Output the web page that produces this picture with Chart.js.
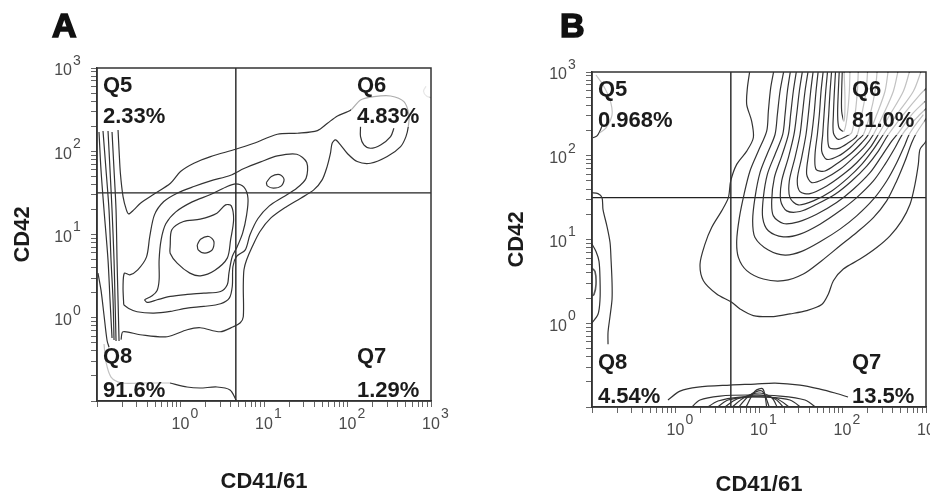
<!DOCTYPE html>
<html>
<head>
<meta charset="utf-8">
<script src="https://cdn.jsdelivr.net/npm/chart.js@4.4.1/dist/chart.umd.min.js"></script>
<style>
  html, body { margin: 0; padding: 0; background: #fff; }
  #wrap { position: relative; width: 930px; height: 498px; overflow: hidden; }
  .panel { position: absolute; top: 0; width: 465px; height: 498px; }
  #panelA { left: 0; }
  #panelB { left: 465px; }
</style>
</head>
<body>
<div id="wrap">
  <div class="panel" id="panelA"><canvas id="chartA"></canvas></div>
  <div class="panel" id="panelB"><canvas id="chartB"></canvas></div>
</div>
<script>
/* ============================================================
   Data — axes, gates, quadrant stats
   Contour vertices are [log10(CD41/61), log10(CD42)] pairs
   ============================================================ */
const AXIS_MIN = 0.1;
const AXIS_MAX = 1000;
const DECADES = [0, 1, 2, 3];
const GATE_X = 4.6;
const GATE_Y = 31.6;

const QUADS = ['Q5', 'Q6', 'Q7', 'Q8'];
const PCT_A = ['2.33%', '4.83%', '1.29%', '91.6%'];
const PCT_B = ['0.968%', '81.0%', '13.5%', '4.54%'];

/* ---- Panel A contours ---- */
const A_L1 = [[-0.748,2.256],[-0.736,2.016],[-0.72,1.736],[-0.688,1.456],[-0.648,1.296],[-0.62,1.248],[-0.56,1.296],[-0.48,1.376],[-0.32,1.484],[-0.12,1.616],[0.0,1.756],[0.16,1.856],[0.36,1.936],[0.66,2.024],[0.88,2.096],[1.16,2.204],[1.40,2.216],[1.64,2.248],[1.76,2.336],[1.88,2.424],[2.04,2.496],[2.156,2.616],[2.316,2.656],[2.516,2.664],[2.676,2.596],[2.736,2.436],[2.728,2.296],[2.70,2.176],[2.636,2.056],[2.476,1.936],[2.276,1.856],[2.116,1.876],[1.996,1.976],[1.916,2.076],[1.856,2.136],[1.816,2.096],[1.796,1.976],[1.756,1.816],[1.696,1.656],[1.596,1.536],[1.44,1.436],[1.26,1.328],[1.08,1.196],[0.952,1.036],[0.86,0.856],[0.792,0.696],[0.76,0.576],[0.752,0.376],[0.752,0.012],[0.716,-0.06],[0.632,-0.108],[0.476,-0.168],[0.236,-0.12],[0.08,-0.144],[-0.16,-0.228],[-0.484,-0.204],[-0.688,-0.168],[-0.712,-0.264]];
const A_L2 = [[-0.68,0.156],[-0.688,0.376],[-0.672,0.536],[-0.608,0.516],[-0.512,0.576],[-0.408,0.728],[-0.368,0.976],[-0.312,1.236],[-0.2,1.396],[-0.04,1.496],[0.16,1.576],[0.36,1.644],[0.6,1.712],[0.76,1.792],[0.96,1.872],[1.16,1.944],[1.392,1.964],[1.512,1.864],[1.504,1.676],[1.392,1.556],[1.224,1.448],[1.064,1.344],[0.928,1.192],[0.832,0.996],[0.776,0.816],[0.672,0.736],[0.628,0.616],[0.62,0.376],[0.584,0.236],[0.48,0.168],[0.28,0.136],[0.08,0.116],[-0.12,0.076],[-0.32,0.056],[-0.52,0.072],[-0.62,0.112],[-0.68,0.156]];
const A_L3 = [[-0.432,0.216],[-0.34,0.264],[-0.28,0.328],[-0.256,0.456],[-0.256,0.696],[-0.232,0.936],[-0.176,1.128],[-0.056,1.272],[0.14,1.392],[0.36,1.48],[0.54,1.568],[0.66,1.608],[0.76,1.568],[0.808,1.436],[0.792,1.236],[0.744,1.016],[0.68,0.856],[0.62,0.736],[0.58,0.536],[0.56,0.396],[0.48,0.316],[0.28,0.296],[0.08,0.28],[-0.12,0.256],[-0.28,0.216],[-0.40,0.184],[-0.432,0.216]];
const A_L4 = [[-0.124,0.856],[-0.104,1.056],[0.036,1.156],[0.236,1.184],[0.436,1.256],[0.54,1.356],[0.608,1.344],[0.636,1.176],[0.60,0.936],[0.56,0.716],[0.408,0.568],[0.24,0.504],[0.112,0.536],[-0.04,0.656],[-0.124,0.776],[-0.124,0.856]];
const A_L5 = [[0.2,0.876],[0.24,0.944],[0.34,0.976],[0.40,0.916],[0.38,0.816],[0.292,0.776],[0.212,0.816],[0.2,0.876]];
const A_MID = [[1.028,1.624],[1.088,1.696],[1.188,1.72],[1.24,1.664],[1.208,1.584],[1.112,1.556],[1.04,1.584],[1.028,1.624]];
const A_Q6 = [[2.156,2.296],[2.156,2.176],[2.196,2.076],[2.276,2.036],[2.396,2.076],[2.516,2.176],[2.556,2.276]];
const A_BAND0 = [[-0.988,0.535],[-0.952,0.331],[-0.916,0.03],[-0.880,-0.27],[-0.856,-0.354]];
const A_BAND1 = [[-0.976,2.231],[-0.952,1.775],[-0.916,1.294],[-0.868,0.694],[-0.844,0.213],[-0.820,-0.243]];
const A_BAND2 = [[-0.928,2.243],[-0.892,1.775],[-0.856,1.294],[-0.832,0.694],[-0.808,0.213],[-0.796,-0.267]];
const A_BAND3 = [[-0.868,2.243],[-0.844,1.775],[-0.820,1.294],[-0.796,0.694],[-0.784,0.213],[-0.772,-0.279]];
const A_BAND4 = [[-0.820,2.231],[-0.796,1.775],[-0.772,1.294],[-0.760,0.694],[-0.748,0.213],[-0.736,-0.279]];
const A_FLOOR = [[-0.126,-0.784],[0.078,-0.832],[0.234,-0.844],[0.437,-0.832],[0.593,-0.868],[0.665,-0.988]];
const A_FLOOR_FAINT = [[-0.916,-0.315],[-0.892,-0.532],[-0.832,-0.712],[-0.70,-0.784],[-0.485,-0.784],[-0.126,-0.784]];
const A_EDGE_FAINT = [[2.94,2.78],[2.91,2.72],[2.95,2.66],[3.02,2.64]];

/* ---- Panel B contours ---- */
const B_L1 = [[0.892,3.028],[0.861,2.810],[0.853,2.611],[0.912,2.413],[0.932,2.215],[0.853,2.056],[0.733,1.897],[0.661,1.699],[0.633,1.500],[0.553,1.342],[0.433,1.143],[0.353,0.945],[0.294,0.707],[0.334,0.508],[0.493,0.350],[0.673,0.251],[0.773,0.171],[0.932,0.092],[1.172,0.080],[1.371,0.112],[1.571,0.151],[1.751,0.223],[1.831,0.350],[1.891,0.508],[2.010,0.647],[2.210,0.766],[2.410,0.905],[2.569,1.044],[2.709,1.223],[2.809,1.421],[2.868,1.659],[2.908,1.897],[2.928,2.076],[2.988,2.155],[3.048,2.254]];
const B_L2 = [[1.180,3.028],[1.140,2.810],[1.112,2.532],[1.092,2.294],[0.992,2.056],[0.892,1.818],[0.821,1.540],[0.765,1.262],[0.733,0.985],[0.753,0.786],[0.853,0.628],[1.052,0.528],[1.292,0.508],[1.531,0.588],[1.751,0.747],[1.970,0.925],[2.170,1.084],[2.370,1.262],[2.529,1.461],[2.649,1.699],[2.749,1.937],[2.829,2.155],[2.888,2.274],[3.008,2.453]];
const B_L3 = [[1.300,3.028],[1.252,2.770],[1.220,2.492],[1.192,2.254],[1.104,2.036],[1.012,1.798],[0.952,1.500],[0.924,1.223],[0.952,1.024],[1.112,0.874],[1.312,0.814],[1.511,0.858],[1.751,0.985],[1.970,1.124],[2.170,1.282],[2.370,1.481],[2.529,1.699],[2.649,1.917],[2.749,2.135],[2.809,2.274],[2.968,2.492]];
const B_L4 = [[1.379,3.028],[1.340,2.770],[1.312,2.492],[1.284,2.254],[1.192,2.016],[1.100,1.778],[1.052,1.500],[1.044,1.262],[1.112,1.104],[1.292,1.032],[1.491,1.064],[1.731,1.183],[1.970,1.342],[2.170,1.500],[2.370,1.699],[2.509,1.897],[2.629,2.096],[2.729,2.274],[2.888,2.453],[3.008,2.572]];
const B_L5 = [[1.451,3.028],[1.411,2.770],[1.379,2.492],[1.352,2.254],[1.272,1.996],[1.184,1.739],[1.152,1.461],[1.172,1.282],[1.292,1.191],[1.471,1.211],[1.691,1.302],[1.930,1.441],[2.130,1.600],[2.330,1.798],[2.469,1.996],[2.589,2.175],[2.669,2.274],[2.829,2.492],[2.988,2.651]];
const B_L6 = [[1.523,3.028],[1.483,2.770],[1.451,2.492],[1.419,2.254],[1.352,1.977],[1.272,1.699],[1.260,1.461],[1.332,1.342],[1.491,1.334],[1.691,1.421],[1.911,1.540],[2.110,1.699],[2.290,1.877],[2.429,2.056],[2.549,2.254],[2.729,2.492],[2.928,2.731],[3.008,2.810]];
const B_L7 = [[1.591,3.028],[1.551,2.770],[1.519,2.492],[1.491,2.254],[1.431,1.977],[1.363,1.699],[1.371,1.500],[1.471,1.413],[1.651,1.461],[1.871,1.580],[2.070,1.739],[2.230,1.897],[2.370,2.076],[2.489,2.254],[2.649,2.492],[2.849,2.770],[2.948,3.028]];
const B_L8 = [[1.651,3.028],[1.619,2.770],[1.591,2.492],[1.563,2.254],[1.511,1.977],[1.459,1.719],[1.491,1.572],[1.611,1.548],[1.811,1.639],[2.010,1.778],[2.170,1.917],[2.330,2.096],[2.429,2.254],[2.569,2.492],[2.729,2.770],[2.809,3.028]];
const B_L9 = [[1.711,3.028],[1.683,2.770],[1.659,2.492],[1.631,2.254],[1.591,1.996],[1.571,1.778],[1.631,1.679],[1.771,1.719],[1.970,1.838],[2.130,1.977],[2.270,2.116],[2.370,2.254],[2.489,2.492],[2.609,2.770],[2.669,3.028]];
const B_L10 = [[1.771,3.028],[1.743,2.770],[1.723,2.492],[1.699,2.254],[1.671,2.016],[1.683,1.838],[1.791,1.818],[1.950,1.917],[2.110,2.036],[2.230,2.155],[2.310,2.254],[2.410,2.492],[2.509,2.770],[2.549,3.028]];
const B_L11 = [[1.823,3.028],[1.799,2.770],[1.779,2.492],[1.763,2.254],[1.751,2.056],[1.811,1.957],[1.950,1.996],[2.090,2.096],[2.190,2.195],[2.250,2.254],[2.330,2.492],[2.390,2.770],[2.417,3.028]];
const B_L12 = [[1.871,3.028],[1.851,2.770],[1.835,2.492],[1.823,2.254],[1.843,2.096],[1.950,2.088],[2.070,2.155],[2.170,2.235],[2.230,2.492],[2.282,2.770],[2.302,3.028]];
const B_L13 = [[1.918,3.028],[1.903,2.770],[1.891,2.492],[1.891,2.274],[1.950,2.195],[2.050,2.235],[2.110,2.274],[2.150,2.492],[2.178,2.770],[2.190,3.028]];
const B_L14 = [[1.962,3.028],[1.950,2.770],[1.942,2.492],[1.958,2.334],[2.018,2.294],[2.058,2.492],[2.082,2.770],[2.090,3.028]];
const B_L15 = [[1.998,3.028],[1.990,2.770],[1.990,2.532],[2.018,2.413],[2.030,2.651],[2.018,3.028]];
const B_AXIS1 = [[-1.012,1.560],[-0.928,1.548],[-0.880,1.500],[-0.868,1.357],[-0.820,1.155],[-0.784,0.964],[-0.772,0.762],[-0.760,0.488],[-0.760,0.286],[-0.784,0.083],[-0.808,-0.107],[-0.808,-0.250]];
const B_AXIS2 = [[-1.012,0.964],[-0.952,0.857],[-0.916,0.738],[-0.904,0.524],[-0.904,0.286],[-0.928,0.107],[-1.012,-0.012]];
const B_AXIS3 = [[-1.012,0.667],[-0.964,0.619],[-0.952,0.464],[-0.976,0.345],[-1.012,0.321]];
const B_Q5 = [[-0.988,2.214],[-0.940,2.238],[-0.904,2.298],[-0.880,2.357]];
const B_Q5_FAINT = [[-0.952,2.964],[-0.868,2.845],[-0.784,2.667],[-0.760,2.488],[-0.832,2.333],[-0.904,2.274]];
const B_FLOOR0 = [[-0.090,-0.917],[0.054,-0.810],[0.269,-0.762],[0.653,-0.738],[0.952,-0.726],[1.192,-0.714],[1.491,-0.738],[1.731,-0.786],[1.910,-0.833],[2.066,-0.881]];
const B_FLOOR1 = [[0.174,-1.024],[0.293,-0.917],[0.533,-0.869],[0.892,-0.857],[1.251,-0.869],[1.551,-0.917],[1.707,-1.024]];
const B_FLOOR2 = [[0.353,-1.024],[0.509,-0.929],[0.772,-0.881],[1.072,-0.881],[1.371,-0.917],[1.527,-1.024]];
const B_FLOOR3 = [[0.473,-1.024],[0.629,-0.917],[0.892,-0.881],[1.192,-0.893],[1.395,-1.024]];
const B_FLOOR4 = [[0.557,-1.024],[0.737,-0.905],[0.976,-0.857],[1.192,-0.905],[1.311,-1.024]];
const B_FLOOR5 = [[0.653,-1.024],[0.832,-0.881],[1.012,-0.833],[1.156,-0.893],[1.228,-1.024]];
const B_FLOOR6 = [[0.737,-1.024],[0.892,-0.857],[1.036,-0.810],[1.132,-1.024]];
const B_FLOOR7 = [[0.832,-1.024],[0.952,-0.810],[1.048,-0.786],[1.096,-1.024]];

/* ============================================================
   Styling
   ============================================================ */
const INK = '#333333';
const FAINT = '#c2c2c2';
const FONT = '"Liberation Sans", Arial, sans-serif';

function level(pts, color, width) {
  return {
    type: 'line',
    data: pts.map(([a, b]) => ({ x: Math.pow(10, a), y: Math.pow(10, b) })),
    borderColor: color || INK,
    borderWidth: width || 1.2,
    pointRadius: 0,
    tension: 0.3,
    fill: false
  };
}

function gates() {
  return [
    { type: 'line', data: [{ x: GATE_X, y: AXIS_MIN }, { x: GATE_X, y: AXIS_MAX }], borderColor: '#222', borderWidth: 1.4, pointRadius: 0 },
    { type: 'line', data: [{ x: AXIS_MIN, y: GATE_Y }, { x: AXIS_MAX, y: GATE_Y }], borderColor: '#222', borderWidth: 1.4, pointRadius: 0 }
  ];
}

/* Keep only integer-significand log ticks (drop 1.5, 15, 150) */
function cleanTicks(scale) {
  scale.ticks = scale.ticks.filter(t => {
    const m = t.value / Math.pow(10, Math.floor(Math.log10(t.value) + 1e-9));
    return Math.abs(m - Math.round(m)) < 1e-6;
  });
}

function axis(pos, size, titleText, titlePad) {
  return {
    type: 'logarithmic',
    position: pos,
    min: AXIS_MIN,
    max: AXIS_MAX,
    afterBuildTicks: cleanTicks,
    afterFit: s => { if (pos === 'left') s.width = size; else s.height = size; },
    ticks: { autoSkip: false, callback: () => '', font: { size: 1 } },
    grid: { drawOnChartArea: false, drawTicks: true, tickLength: 6, color: '#666', lineWidth: 1 },
    border: { display: true, color: '#333', width: 1.5 },
    title: {
      display: true,
      text: titleText,
      color: '#1b1b1b',
      font: { family: FONT, size: 22, weight: 'bold' },
      padding: titlePad
    }
  };
}

/* ============================================================
   Decoration plugin: panel letter, decade labels, box, quadrants
   ============================================================ */
const flowDecor = {
  id: 'flowDecor',
  afterDatasetsDraw(chart, args, opts) {
    const { ctx, chartArea: a, scales: { x, y } } = chart;
    ctx.save();

    // plot frame
    ctx.strokeStyle = '#333';
    ctx.lineWidth = 1.5;
    ctx.strokeRect(a.left, a.top, a.right - a.left, a.bottom - a.top);

    // light veil behind Q6 text
    ctx.fillStyle = 'rgba(255,255,255,' + opts.veilAlpha + ')';
    ctx.fillRect(a.right - opts.veilW, a.top + opts.veilTop, opts.veilW - 1.5, opts.veilH);

    // decade labels 10^k
    ctx.fillStyle = '#4a4a4a';
    ctx.textBaseline = 'middle';
    DECADES.forEach(k => {
      const v = Math.pow(10, k);
      const px = x.getPixelForValue(v);
      const py = y.getPixelForValue(v);
      ctx.font = '16px ' + FONT;
      const w = ctx.measureText('10').width;
      ctx.textAlign = 'center';
      ctx.fillText('10', px, a.bottom + 24);
      ctx.textAlign = 'right';
      ctx.fillText('10', a.left - 25, py + 3);
      ctx.font = '14px ' + FONT;
      ctx.textAlign = 'left';
      ctx.fillText(String(k), px + w / 2 + 1, a.bottom + 13);
      ctx.fillText(String(k), a.left - 24, py - 7);
    });

    // quadrant names and percentages
    const pct = opts.pct;
    ctx.fillStyle = '#1b1b1b';
    ctx.textAlign = 'left';
    ctx.textBaseline = 'alphabetic';
    ctx.font = 'bold 22px ' + FONT;
    const lx = a.left + 6, rx = a.right - 74;
    ctx.fillText(QUADS[0], lx, a.top + 24);
    ctx.fillText(pct[0], lx, a.top + 55);
    ctx.fillText(QUADS[1], rx, a.top + 24);
    ctx.fillText(pct[1], rx, a.top + 55);
    ctx.fillText(QUADS[3], lx, a.bottom - 38);
    ctx.fillText(pct[3], lx, a.bottom - 4);
    ctx.fillText(QUADS[2], rx, a.bottom - 38);
    ctx.fillText(pct[2], rx, a.bottom - 4);

    // panel letter
    ctx.font = 'bold 34px ' + FONT;
    ctx.lineWidth = 1.6;
    ctx.strokeStyle = '#111';
    ctx.fillStyle = '#111';
    ctx.fillText(opts.letter, opts.letterX, 37);
    ctx.strokeText(opts.letter, opts.letterX, 37);

    ctx.restore();
  }
};

function makeChart(id, datasets, cfg) {
  return new Chart(document.getElementById(id), {
    type: 'line',
    data: { datasets },
    options: {
      responsive: true,
      maintainAspectRatio: false,
      animation: false,
      events: [],
      layout: { padding: cfg.padding },
      plugins: {
        legend: { display: false },
        tooltip: { enabled: false },
        flowDecor: cfg.decor
      },
      scales: {
        x: axis('bottom', cfg.xSize, 'CD41/61', { top: 0, bottom: cfg.xTitlePad }),
        y: axis('left', cfg.ySize, 'CD42', { top: cfg.yTitlePad, bottom: 0 })
      }
    },
    plugins: [flowDecor]
  });
}

/* ---- Panel A ---- */
makeChart('chartA', [
  level(A_FLOOR_FAINT, FAINT), level(A_EDGE_FAINT, FAINT),
  level(A_BAND0), level(A_BAND1), level(A_BAND2), level(A_BAND3), level(A_BAND4),
  level(A_L1), level(A_L2), level(A_L3), level(A_L4), level(A_L5),
  level(A_MID), level(A_Q6), level(A_FLOOR),
  ...gates()
], {
  padding: { left: 0, right: 34, top: 68, bottom: 0 },
  xSize: 97, ySize: 97, xTitlePad: 3, yTitlePad: 10,
  decor: { pct: PCT_A, letter: 'A', letterX: 52, veilW: 80, veilTop: 8, veilH: 51, veilAlpha: 0.6 }
});

/* ---- Panel B ---- */
makeChart('chartB', [
  level(B_Q5_FAINT, FAINT),
  level(B_L1), level(B_L2), level(B_L3), level(B_L4), level(B_L5),
  level(B_L6), level(B_L7), level(B_L8), level(B_L9), level(B_L10),
  level(B_L11), level(B_L12), level(B_L13), level(B_L14), level(B_L15),
  level(B_AXIS1), level(B_AXIS2), level(B_AXIS3, '#555', 1.6), level(B_Q5),
  level(B_FLOOR0), level(B_FLOOR1), level(B_FLOOR2), level(B_FLOOR3),
  level(B_FLOOR4), level(B_FLOOR5), level(B_FLOOR6), level(B_FLOOR7),
  ...gates()
], {
  padding: { left: 0, right: 4, top: 72, bottom: 0 },
  xSize: 91, ySize: 127, xTitlePad: 0, yTitlePad: 39,
  decor: { pct: PCT_B, letter: 'B', letterX: 95, veilW: 83, veilTop: 1, veilH: 62, veilAlpha: 0.7 }
});
</script>
</body>
</html>
